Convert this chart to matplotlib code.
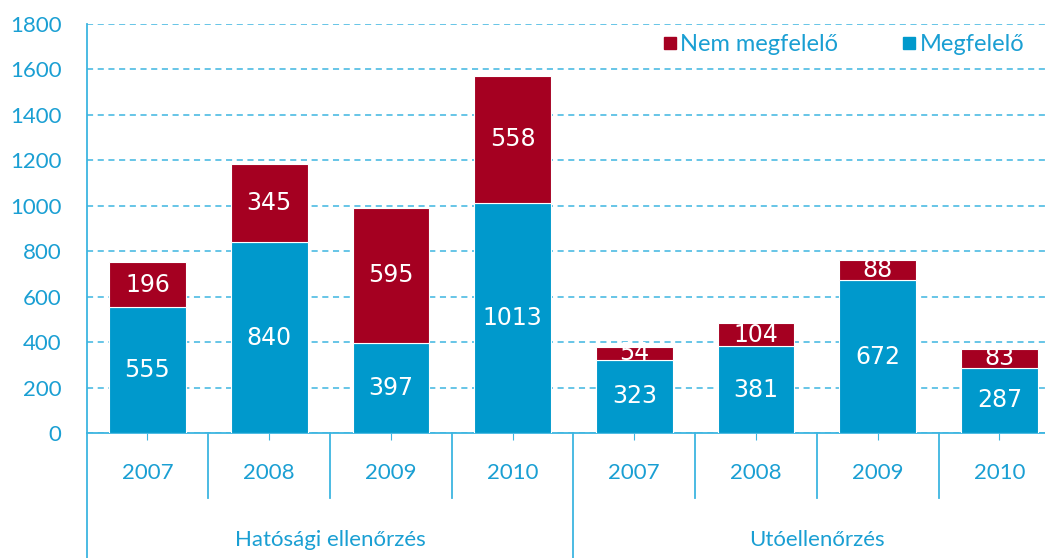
import matplotlib.pyplot as plt
from matplotlib.lines import Line2D
import matplotlib.transforms as mtransforms

# data
groups = ["Hatósági ellenőrzés", "Utóellenőrzés"]
years = ["2007", "2008", "2009", "2010", "2007", "2008", "2009", "2010"]
megfelelo = [555, 840, 397, 1013, 323, 381, 672, 287]
nem_megfelelo = [196, 345, 595, 558, 54, 104, 88, 83]

BLUE = "#0099CC"
RED = "#A50021"
TXT = "#1A9FD3"
GRID = "#3DB5E0"

plt.rcParams["font.family"] = ["Lato", "DejaVu Sans"]

fig = plt.figure(figsize=(10.45, 5.58), dpi=100)
# the plot area runs a little past the right edge of the picture
ax = fig.add_axes([0.0829, 0.224, 0.9317, 0.733])

x = list(range(len(years)))
ax.bar(x, megfelelo, width=0.63, color=BLUE, edgecolor="white", linewidth=0.8, zorder=3)
ax.bar(x, nem_megfelelo, width=0.63, bottom=megfelelo, color=RED,
       edgecolor="white", linewidth=0.8, zorder=3)

for i in x:
    ax.text(i, megfelelo[i] / 2, str(megfelelo[i]), ha="center", va="center",
            color="white", fontsize=17, family="DejaVu Sans", zorder=4)
    ax.text(i, megfelelo[i] + nem_megfelelo[i] / 2, str(nem_megfelelo[i]),
            ha="center", va="center", color="white", fontsize=17,
            family="DejaVu Sans", zorder=4)

ax.set_xlim(-0.5, len(years) - 0.5)
ax.set_ylim(0, 1800)
ax.set_yticks(range(0, 1801, 200))
ax.tick_params(axis="y", length=0, labelsize=16, labelcolor=TXT, pad=18)
ax.set_xticks(x)
ax.set_xticklabels([])
ax.tick_params(axis="x", length=5, color=GRID, direction="out")

ax.grid(axis="y", color=GRID, linestyle=(0, (4, 3)), linewidth=1.1, zorder=0)
for s in ["top", "right"]:
    ax.spines[s].set_visible(False)
ax.spines["left"].set_color(GRID)
ax.spines["bottom"].set_color(GRID)
ax.spines["left"].set_linewidth(1.3)
ax.spines["bottom"].set_linewidth(1.3)

# two-level category axis
tr = mtransforms.blended_transform_factory(ax.transData, ax.transAxes)
for i, y in enumerate(years):
    ax.text(i, -0.098, y, transform=tr, ha="center", va="center",
            fontsize=16, color=TXT)
for b in [0.5, 1.5, 2.5, 4.5, 5.5, 6.5]:
    ax.add_line(Line2D([b, b], [0, -0.159], transform=tr, color=GRID,
                       linewidth=1.3, clip_on=False))
for b in [-0.5, 3.5, 7.5]:
    ax.add_line(Line2D([b, b], [0, -0.31], transform=tr, color=GRID,
                       linewidth=1.3, clip_on=False))
ax.text(1.5, -0.262, groups[0], transform=tr, ha="center", va="center",
        fontsize=16, color=TXT)
ax.text(5.5, -0.262, groups[1], transform=tr, ha="center", va="center",
        fontsize=16, color=TXT)

handles = [
    Line2D([], [], marker="s", linestyle="", markersize=8, color=RED),
    Line2D([], [], marker="s", linestyle="", markersize=8, color=BLUE),
]
leg = ax.legend(handles, ["Nem megfelelő", "Megfelelő"], ncol=2, frameon=True,
                loc="upper right", bbox_to_anchor=(0.963, 0.975), fontsize=17,
                handletextpad=0.05, columnspacing=2.6, handlelength=0.8,
                borderpad=0.0, borderaxespad=0.0,
                facecolor="white", edgecolor="none", framealpha=1)
for t in leg.get_texts():
    t.set_color(TXT)

fig.savefig("out.png", dpi=100)
